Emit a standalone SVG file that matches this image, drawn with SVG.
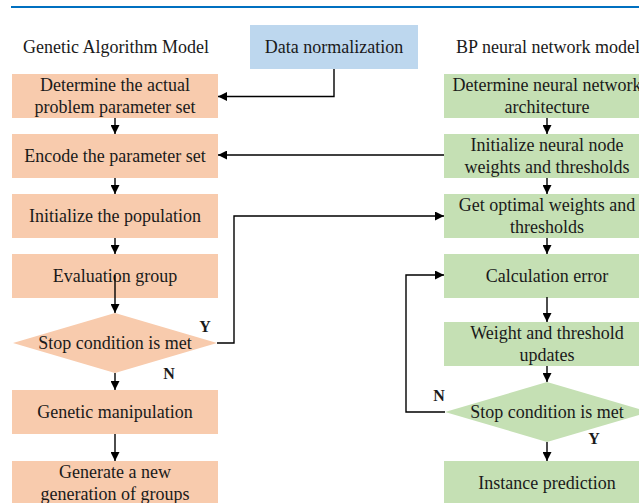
<svg xmlns="http://www.w3.org/2000/svg" width="639" height="503" viewBox="0 0 639 503">
<style>
text{font-size:18px;fill:#1a1a1a;text-anchor:middle}
.lbl{font-weight:bold;font-size:16px}
.ga{fill:#f8cbad}
.bp{fill:#c5e0b4}
.dn{fill:#bdd7ee}
.c{fill:none;stroke:#000;stroke-width:1.4}
</style>
<defs>
<marker id="ah" viewBox="0 0 10 10" refX="10" refY="5" markerWidth="9" markerHeight="9" markerUnits="userSpaceOnUse" orient="auto">
<path d="M0,0 L10,5 L0,10 Z" fill="#000"/>
</marker>
</defs>
<g font-family="Liberation Serif, Times New Roman, serif">
<rect x="11" y="6" width="628" height="2" fill="#0070c0"/>
<text x="116" y="53">Genetic Algorithm Model</text>
<text x="548" y="53">BP neural network model</text>
<g id="data-normalization"><rect class="dn" x="250" y="25" width="168" height="44"/><text x="334" y="53">Data normalization</text></g>
<g id="ga1"><rect class="ga" x="12" y="74" width="206" height="44"/><text x="115" y="91">Determine the actual</text><text x="115" y="113">problem parameter set</text></g>
<g id="ga2"><rect class="ga" x="12" y="134" width="206" height="44"/><text x="115" y="162">Encode the parameter set</text></g>
<g id="ga3"><rect class="ga" x="12" y="194" width="206" height="44"/><text x="115" y="222">Initialize the population</text></g>
<g id="ga4"><rect class="ga" x="12" y="254" width="206" height="44"/><text x="115" y="282">Evaluation group</text></g>
<g id="ga5"><polygon class="ga" points="115,313 217,343 115,373 13,343"/><text x="115" y="349">Stop condition is met</text></g>
<g id="ga6"><rect class="ga" x="12" y="390" width="206" height="44"/><text x="115" y="418">Genetic manipulation</text></g>
<g id="ga7"><rect class="ga" x="12" y="461" width="206" height="44"/><text x="115" y="478">Generate a new</text><text x="115" y="500">generation of groups</text></g>
<g id="bp1"><rect class="bp" x="444" y="74" width="206" height="44"/><text x="547" y="91">Determine neural network</text><text x="547" y="113">architecture</text></g>
<g id="bp2"><rect class="bp" x="444" y="134" width="206" height="44"/><text x="547" y="151">Initialize neural node</text><text x="547" y="173">weights and thresholds</text></g>
<g id="bp3"><rect class="bp" x="444" y="194" width="206" height="44"/><text x="547" y="211">Get optimal weights and</text><text x="547" y="233">thresholds</text></g>
<g id="bp4"><rect class="bp" x="444" y="254" width="206" height="44"/><text x="547" y="282">Calculation error</text></g>
<g id="bp5"><rect class="bp" x="444" y="322" width="206" height="44"/><text x="547" y="339">Weight and threshold</text><text x="547" y="361">updates</text></g>
<g id="bp6"><polygon class="bp" points="547,382 649,412 547,442 445,412"/><text x="547" y="418">Stop condition is met</text></g>
<g id="bp7"><rect class="bp" x="444" y="461" width="206" height="44"/><text x="547" y="489">Instance prediction</text></g>
<g id="connectors">
<path class="c" d="M334,69 V96.5 H218" marker-end="url(#ah)"/>
<path class="c" d="M115,118 V134" marker-end="url(#ah)"/>
<path class="c" d="M115,178 V194" marker-end="url(#ah)"/>
<path class="c" d="M115,238 V254" marker-end="url(#ah)"/>
<path class="c" d="M115,275 V313" marker-end="url(#ah)"/>
<path class="c" d="M115,373 V390" marker-end="url(#ah)"/>
<path class="c" d="M115,434 V461" marker-end="url(#ah)"/>
<path class="c" d="M444,155 H218" marker-end="url(#ah)"/>
<path class="c" d="M217,343 H234 V216 H444" marker-end="url(#ah)"/>
<path class="c" d="M547,118 V134" marker-end="url(#ah)"/>
<path class="c" d="M547,178 V194" marker-end="url(#ah)"/>
<path class="c" d="M547,238 V254" marker-end="url(#ah)"/>
<path class="c" d="M547,297 V322" marker-end="url(#ah)"/>
<path class="c" d="M547,366 V382" marker-end="url(#ah)"/>
<path class="c" d="M547,442 V461" marker-end="url(#ah)"/>
<path class="c" d="M445,412 H406 V275 H444" marker-end="url(#ah)"/>
<text class="lbl" x="205" y="332">Y</text>
<text class="lbl" x="169" y="379">N</text>
<text class="lbl" x="439" y="401">N</text>
<text class="lbl" x="594" y="444">Y</text>
</g>
</g>
</svg>
